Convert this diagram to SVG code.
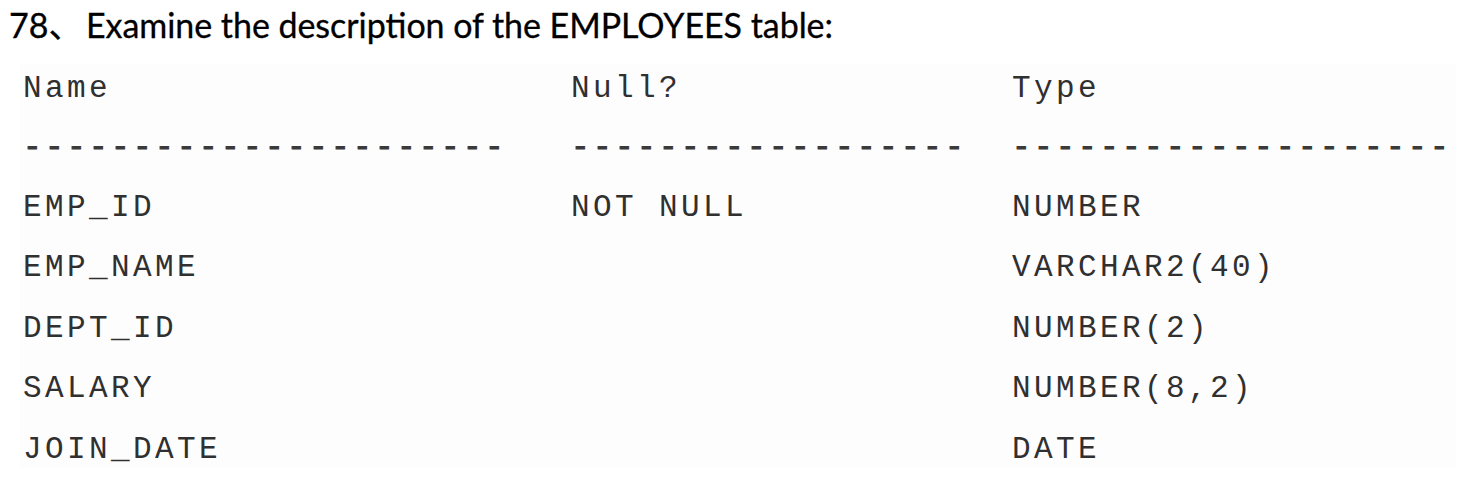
<svg xmlns="http://www.w3.org/2000/svg" width="1472" height="478" viewBox="0 0 1472 478">
  <style>
    .title { font-family: Lato, "Noto Sans CJK SC", sans-serif; font-size: 34px; fill: #000; stroke: #000; stroke-width: 0.3; }
    .mono { font-family: "Liberation Mono", "DejaVu Sans Mono", monospace; font-size: 31px; letter-spacing: 3.4px; fill: #303030; }
    .dash { font-family: "Liberation Mono", "DejaVu Sans Mono", monospace; font-size: 31px; letter-spacing: 3.4px; fill: #3a3a3a; stroke: #3a3a3a; stroke-width: 1; }
  </style>
  <rect x="0" y="0" width="1472" height="478" fill="#ffffff"/>
  <rect x="20" y="64" width="1436" height="404" fill="#fefdfe"/>
  <g id="title">
    <text class="title" x="9" y="38">78、</text>
    <text class="title" x="86" y="38" textLength="747" lengthAdjust="spacing">Examine the description of the EMPLOYEES table:</text>
  </g>
  <g id="header">
    <text class="mono" x="23" y="97">Name</text>
    <text class="mono" x="571" y="97">Null?</text>
    <text class="mono" x="1012" y="97">Type</text>
  </g>
  <g id="rule">
    <text class="dash" x="23" y="155.5">----------------------</text>
    <text class="dash" x="571" y="155.5">------------------</text>
    <text class="dash" x="1012" y="155.5">--------------------</text>
  </g>
  <g id="row-emp-id">
    <text class="mono" x="23" y="216">EMP_ID</text>
    <text class="mono" x="571" y="216">NOT NULL</text>
    <text class="mono" x="1012" y="216">NUMBER</text>
  </g>
  <g id="row-emp-name">
    <text class="mono" x="23" y="276">EMP_NAME</text>
    <text class="mono" x="1012" y="276">VARCHAR2(40)</text>
  </g>
  <g id="row-dept-id">
    <text class="mono" x="23" y="337">DEPT_ID</text>
    <text class="mono" x="1012" y="337">NUMBER(2)</text>
  </g>
  <g id="row-salary">
    <text class="mono" x="23" y="397">SALARY</text>
    <text class="mono" x="1012" y="397">NUMBER(8,2)</text>
  </g>
  <g id="row-join-date">
    <text class="mono" x="23" y="458">JOIN_DATE</text>
    <text class="mono" x="1012" y="458">DATE</text>
  </g>
</svg>
